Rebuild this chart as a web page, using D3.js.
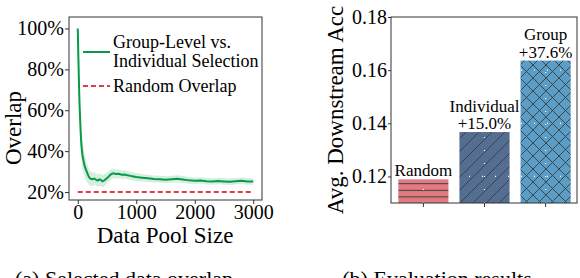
<!DOCTYPE html>
<meta charset="utf-8">
<style>
  body { margin: 0; background: #fff; }
  svg text { font-family: "Liberation Serif", "Times New Roman", serif !important; fill: #000; }
</style>
<svg width="580" height="278" font-family="Liberation Serif, serif"></svg>
<script src="https://cdn.jsdelivr.net/npm/d3@7/dist/d3.min.js"></script>
<script>

// ---- data: left panel (overlap vs pool size) ----
var poolSize = [0, 5, 10, 15, 20, 25, 30, 40, 50, 60, 70, 80, 90, 100, 120, 140, 160, 180, 200, 220,
  250, 280, 310, 340, 370, 400, 420, 440, 460, 480, 500, 530, 560, 590, 620, 650, 700, 750, 800, 850,
  900, 950, 1000, 1100, 1200, 1300, 1400, 1500, 1600, 1700, 1800, 1900, 2000, 2100, 2200, 2300, 2400,
  2500, 2600, 2700, 2800, 2900, 3000];
var overlap = [100, 93, 86, 80, 74, 68, 63, 56, 49, 44, 40.5, 38, 36.5, 35, 32.5, 31, 29.5, 28, 27, 26.5,
  26.3, 26.6, 26.1, 25.6, 26.2, 25.8, 25.2, 25.4, 25.9, 26.3, 26.8, 27.6, 28.5, 29.0, 29.2, 28.8, 28.9, 28.5, 28.6, 28.2,
  27.9, 27.6, 27.3, 27.0, 26.7, 26.4, 26.2, 26.0, 26.3, 26.5, 26.1, 25.7, 25.5, 25.6, 25.3, 25.1, 25.4,
  25.2, 25.0, 25.3, 25.5, 25.2, 25.1];
var spread = [0, 3, 5, 6, 7, 7, 7, 7, 7, 7, 7, 7, 6.5, 6, 5.5, 5, 4.5, 4, 3.8, 3.5,
  3.2, 3.1, 3, 3, 3, 3, 3, 3, 2.9, 2.8, 2.7, 2.6, 2.5, 2.4, 2.3, 2.2, 2.1, 2.1, 2, 2,
  2, 2, 1.9, 1.8, 1.8, 1.7, 1.7, 1.7, 1.7, 1.7, 1.7, 1.7, 1.6, 1.6, 1.6, 1.6, 1.6,
  1.6, 1.6, 1.6, 1.6, 1.6, 1.6];
var randomOverlap = 20;
var overlapTicks = [20, 40, 60, 80, 100];
var poolTicks = [0, 1000, 2000, 3000];

// ---- data: right panel (downstream accuracy) ----
var methods = ["Random", "Individual", "Group"];
var accuracy = [0.1189, 0.1367, 0.1636];
var gainLabels = ["", "+15.0%", "+37.6%"];
var accTicks = [0.12, 0.14, 0.16, 0.18];

var serif = "Liberation Serif, serif";
var svg = d3.select("svg");

// hatch patterns
var defs = svg.append("defs");
var hatchColor = "#3c3c3c";
var ph = defs.append("pattern").attr("id", "hz").attr("patternUnits", "userSpaceOnUse")
  .attr("width", 10).attr("height", 6.6).attr("y", 203);
ph.append("rect").attr("width", 10).attr("height", 6.6).attr("fill", "#e27b81");
ph.append("line").attr("x1", 0).attr("x2", 10).attr("y1", 0.5).attr("y2", 0.5)
  .attr("stroke", hatchColor).attr("stroke-width", 1);

var pd = defs.append("pattern").attr("id", "dg").attr("patternUnits", "userSpaceOnUse")
  .attr("width", 13).attr("height", 13);
pd.append("rect").attr("width", 13).attr("height", 13).attr("fill", "#536e91");
pd.append("path").attr("d", "M-2,15 L15,-2 M-4,4 L4,-4 M9,17 L17,9")
  .attr("stroke", hatchColor).attr("stroke-width", 0.9);

var px = defs.append("pattern").attr("id", "xx").attr("patternUnits", "userSpaceOnUse")
  .attr("width", 13).attr("height", 13);
px.append("rect").attr("width", 13).attr("height", 13).attr("fill", "#5a9dc6");
px.append("path").attr("d", "M-2,15 L15,-2 M-4,4 L4,-4 M9,17 L17,9 M-2,-2 L15,15 M-4,9 L4,17 M9,-4 L17,4")
  .attr("stroke", hatchColor).attr("stroke-width", 0.9);

// ================= left panel =================
var L = {left: 69, right: 262, top: 17, bottom: 200};
var x1 = d3.scaleLinear().domain([-150, 3150]).range([L.left, L.right]);
var y1 = d3.scaleLinear().domain([16.1, 105.6]).range([L.bottom, L.top]);

var pts = poolSize.map(function(d, i) { return {x: d, y: overlap[i], s: spread[i]}; });

svg.append("path").datum(pts)
  .attr("fill", "#0a9a4a").attr("fill-opacity", 0.17)
  .attr("d", d3.area().x(function(d) { return x1(d.x); })
    .y0(function(d) { return y1(d.y - d.s); })
    .y1(function(d) { return y1(Math.min(100, d.y + d.s)); }));

svg.append("path").datum(pts)
  .attr("fill", "none").attr("stroke", "#079a48").attr("stroke-width", 2)
  .attr("d", d3.line().x(function(d) { return x1(d.x); }).y(function(d) { return y1(d.y); }));

svg.append("line")
  .attr("x1", x1(0)).attr("x2", x1(3000))
  .attr("y1", y1(randomOverlap)).attr("y2", y1(randomOverlap))
  .attr("stroke", "#e8394a").attr("stroke-width", 2).attr("stroke-dasharray", "5,3");

svg.append("rect").attr("x", L.left).attr("y", L.top)
  .attr("width", L.right - L.left).attr("height", L.bottom - L.top)
  .attr("fill", "none").attr("stroke", "#333").attr("stroke-width", 1);

var gy1 = svg.append("g").attr("transform", "translate(" + L.left + ",0)")
  .call(d3.axisLeft(y1).tickValues(overlapTicks).tickSize(4).tickPadding(1)
    .tickFormat(function(d) { return d + "%"; }));
var gx1 = svg.append("g").attr("transform", "translate(0," + L.bottom + ")")
  .call(d3.axisBottom(x1).tickValues(poolTicks).tickSize(4).tickPadding(1)
    .tickFormat(d3.format("d")));

// legend
svg.append("line").attr("x1", 83).attr("x2", 110).attr("y1", 52).attr("y2", 52)
  .attr("stroke", "#079a48").attr("stroke-width", 2);
svg.append("line").attr("x1", 83).attr("x2", 110).attr("y1", 86).attr("y2", 86)
  .attr("stroke", "#e8394a").attr("stroke-width", 2).attr("stroke-dasharray", "5,3");
var leg = svg.append("g").attr("font-family", serif).attr("font-size", 18);
leg.append("text").attr("x", 113).attr("y", 48).text("Group-Level vs.");
leg.append("text").attr("x", 113).attr("y", 66.5).text("Individual Selection");
leg.append("text").attr("x", 113).attr("y", 91.5).text("Random Overlap");

svg.append("text").attr("transform", "translate(21,128) rotate(-90)")
  .attr("text-anchor", "middle").attr("font-family", serif).attr("font-size", 23).text("Overlap");
svg.append("text").attr("x", 165).attr("y", 243)
  .attr("text-anchor", "middle").attr("font-family", serif).attr("font-size", 23).text("Data Pool Size");

// ================= right panel =================
var R = {left: 391, right: 578, top: 17, bottom: 203};
var x2 = d3.scaleBand().domain(methods).range([R.left, R.right]).paddingInner(0.18).paddingOuter(0.12);
var y2 = d3.scaleLinear().domain([0.11, 0.18]).range([R.bottom, R.top]);
var fills = ["url(#hz)", "url(#dg)", "url(#xx)"];

svg.selectAll(".bar").data(methods).enter().append("rect")
  .attr("class", "bar")
  .attr("x", function(d) { return x2(d); })
  .attr("width", x2.bandwidth())
  .attr("y", function(d, i) { return y2(accuracy[i]); })
  .attr("height", function(d, i) { return R.bottom - y2(accuracy[i]); })
  .attr("fill", function(d, i) { return fills[i]; });

// white dotted grid, only visible where it crosses the bars
var grid = svg.append("g").attr("stroke", "#fff").attr("stroke-width", 1.2)
  .attr("stroke-dasharray", "1,12");
methods.forEach(function(m) {
  grid.append("line").attr("x1", x2(m) + x2.bandwidth() / 2).attr("x2", x2(m) + x2.bandwidth() / 2)
    .attr("y1", R.bottom).attr("y2", R.top);
});
accTicks.forEach(function(t) {
  grid.append("line").attr("x1", R.left).attr("x2", R.right).attr("y1", y2(t)).attr("y2", y2(t));
});

var bl = svg.append("g").attr("font-family", serif).attr("font-size", 17).attr("text-anchor", "middle");
methods.forEach(function(m, i) {
  var cx = x2(m) + x2.bandwidth() / 2, top = y2(accuracy[i]) - 3;
  if (gainLabels[i]) {
    bl.append("text").attr("x", cx).attr("y", top).text(gainLabels[i]);
    bl.append("text").attr("x", cx).attr("y", top - 17.5).text(m);
  } else {
    bl.append("text").attr("x", cx).attr("y", top).text(m);
  }
});

svg.append("rect").attr("x", R.left).attr("y", R.top)
  .attr("width", R.right - R.left - 1).attr("height", R.bottom - R.top)
  .attr("fill", "none").attr("stroke", "#333").attr("stroke-width", 1);

var gy2 = svg.append("g").attr("transform", "translate(" + R.left + ",0)")
  .call(d3.axisLeft(y2).tickValues(accTicks).tickSize(3).tickPadding(1).tickFormat(d3.format(".2f")));
var gx2 = svg.append("g").attr("transform", "translate(0," + R.bottom + ")")
  .call(d3.axisBottom(x2).tickSize(4).tickFormat(""));

svg.append("text").attr("transform", "translate(343,110) rotate(-90)")
  .attr("text-anchor", "middle").attr("font-family", serif).attr("font-size", 23).text("Avg. Downstream Acc");

// axis styling
[gy1, gx1, gy2, gx2].forEach(function(g) {
  g.attr("font-family", serif).attr("font-size", 20);
  g.select(".domain").remove();
  g.selectAll(".tick line").attr("stroke", "#333");
  g.selectAll(".tick text").attr("fill", "#000");
});

// captions, cut by the bottom edge as in the source figure
svg.append("text").attr("x", 124).attr("y", 286).attr("text-anchor", "middle")
  .attr("font-family", serif).attr("font-size", 22).text("(a) Selected data overlap");
svg.append("text").attr("x", 437).attr("y", 286).attr("text-anchor", "middle")
  .attr("font-family", serif).attr("font-size", 22).text("(b) Evaluation results");
</script>
